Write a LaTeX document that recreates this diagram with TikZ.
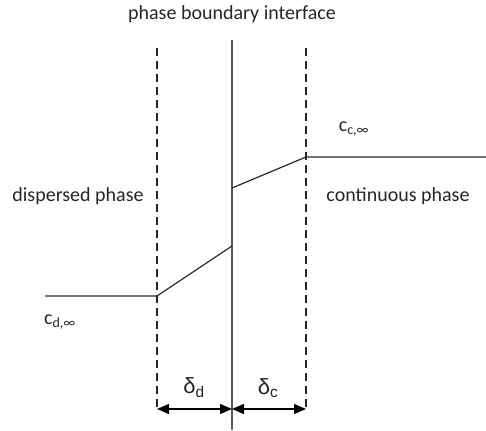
\documentclass[tikz,border=0pt]{standalone}
\usepackage{fontspec}
\setmainfont{Carlito}
\newfontfamily\greekfont{Liberation Sans}
\usepackage{xcolor}
\usepackage{tikz}
\usetikzlibrary{arrows.meta, positioning}
\definecolor{profile}{RGB}{40,40,40}
\definecolor{interface}{RGB}{90,90,90}

\begin{document}
\begin{tikzpicture}[x=1pt, y=-1pt,
    every node/.style={font=\fontsize{20}{22}\selectfont, text=black!85},
    film/.style={draw=black!85, dash pattern=on 8pt off 5pt, line width=1.2pt},
    conc/.style={draw=profile, line width=1.2pt},
    filmarrow/.style={arrows={Triangle[length=12pt, width=10pt]-Triangle[length=12pt, width=10pt]}, line width=1.2pt}]
    \useasboundingbox (0,0) rectangle (486,430);

    % interface and film borders
    \coordinate (ifTop) at (232,40);
    \coordinate (ifBot) at (232,430);
    \draw[draw=interface, line width=1.5pt] (ifTop) -- (ifBot);
    \coordinate (dTop) at (157,48);
    \coordinate (dBot) at (157,410);
    \coordinate (cTop) at (306,48);
    \coordinate (cBot) at (306,410);
    \draw[film] (dTop) -- (dBot);
    \draw[film] (cTop) -- (cBot);

    % concentration profile
    \coordinate (dStart) at (45,296);
    \coordinate (dFilm) at (157,296);
    \coordinate (dIf) at (232,246);
    \coordinate (cIf) at (232,188);
    \coordinate (cFilm) at (306,157);
    \coordinate (cEnd) at (486,157);
    \draw[conc] (dStart) -- (dFilm) -- (dIf);
    \draw[conc] (cIf) -- (cFilm) -- (cEnd);

    % labels
    \node (title) at (232,14) {phase boundary interface};
    \node (disp) at (78,196) {dispersed phase};
    \node (cont) at (398,196) {continuous phase};
    \node (cdinf) at (60,322) {c\textsubscript{d,∞}};
    \node (ccinf) at (354,129) {c\textsubscript{c,∞}};

    % film thicknesses
    \coordinate (dArr) at (157,409);
    \coordinate (mArr) at (232,409);
    \coordinate (cArr) at (306,409);
    \draw[filmarrow] (dArr) -- (mArr);
    \draw[filmarrow] (mArr) -- (cArr);
    \node[font=\greekfont\fontsize{22}{24}\selectfont] (deltad) at (194,388) {δ\textsubscript{d}};
    \node[font=\greekfont\fontsize{22}{24}\selectfont] (deltac) at (268,388) {δ\textsubscript{c}};
\end{tikzpicture}
\end{document}
